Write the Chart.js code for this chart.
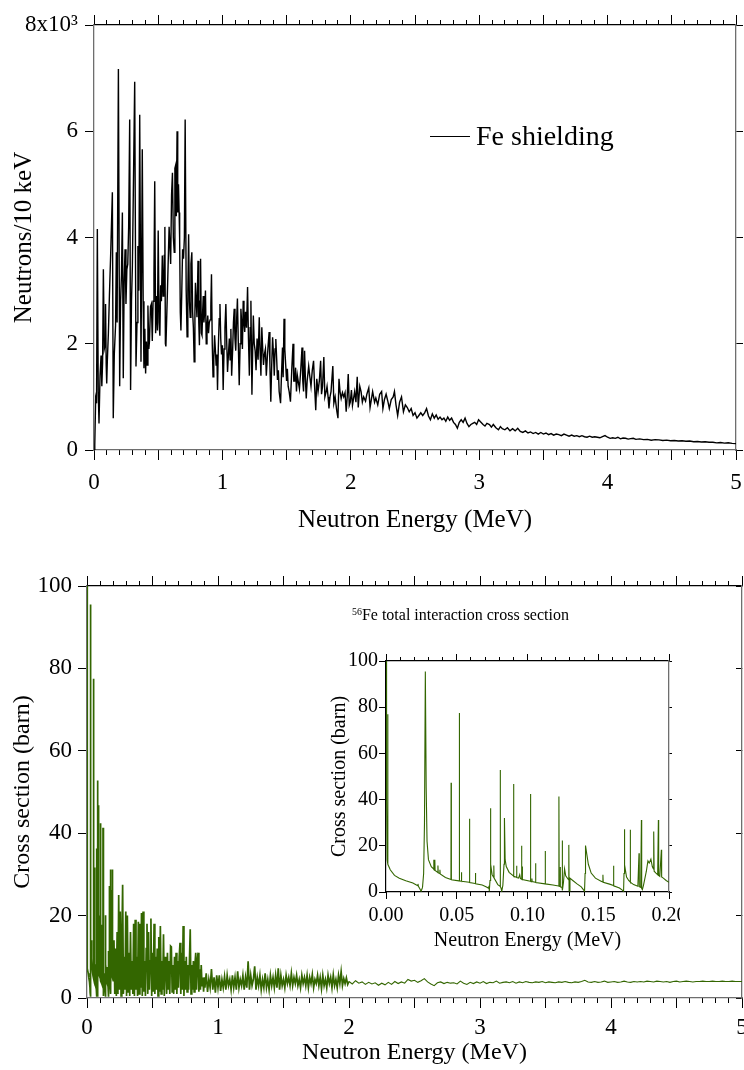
<!DOCTYPE html>
<html>
<head>
<meta charset="utf-8">
<script src="https://cdn.jsdelivr.net/npm/chart.js@4.4.1/dist/chart.umd.min.js"></script>
<style>
  body { margin: 0; background: #fff; width: 744px; height: 1070px; position: relative; overflow: hidden;
         font-family: 'Liberation Serif', 'Times New Roman', serif; color: #000; }
  canvas { position: absolute; }
  #shieldChart { left: 0; top: 0; }
  #xsChart { left: 0; top: 560px; }
  #insetChart { left: 320px; top: 640px; }
  .note { position: absolute; white-space: nowrap; }
  .note sup { font-size: 62%; vertical-align: 0; position: relative; top: -0.55em; }
</style>
</head>
<body>
<canvas id="shieldChart" width="744" height="540"></canvas>
<canvas id="xsChart" width="744" height="510"></canvas>
<canvas id="insetChart" width="360" height="315"></canvas>

<div style="position:absolute;left:430px;top:136px;width:40px;height:1.3px;background:#000"></div>
<div class="note" style="left:476px;top:120px;font-size:28px;line-height:32px">Fe shielding</div>
<div class="note" style="left:352px;top:605px;font-size:16px;line-height:19px"><sup>56</sup>Fe total interaction cross section</div>

<script>
/* ─── Data: [energy (MeV), value] ─────────────────────────────── */

// neutron spectrum behind the Fe shield (neutrons per 10 keV)
const shieldingSpectrum = [
  [0.000, 0], [0.006, 90], [0.013, 970], [0.020, 880], [0.026, 4160], [0.033, 1100], [0.039, 500], [0.047, 1400],
  [0.055, 1780], [0.061, 1200], [0.067, 1650], [0.073, 3400], [0.080, 1900], [0.086, 1970], [0.090, 2750], [0.095, 1600],
  [0.099, 1250], [0.104, 1690], [0.112, 2200], [0.120, 2900], [0.130, 3700], [0.143, 4850], [0.150, 600], [0.158, 1800],
  [0.168, 2350], [0.174, 3720], [0.180, 2400], [0.190, 7170], [0.200, 1200], [0.207, 2800], [0.214, 3300], [0.221, 4470],
  [0.228, 1350], [0.235, 3200], [0.242, 3780], [0.249, 2750], [0.256, 3400], [0.263, 3500], [0.270, 4200], [0.278, 6220],
  [0.285, 1130], [0.292, 2800], [0.299, 3470], [0.306, 4800], [0.317, 6930], [0.327, 1570], [0.335, 2400], [0.342, 3840],
  [0.349, 3000], [0.356, 6310], [0.366, 1660], [0.371, 3500], [0.376, 5660], [0.383, 2800], [0.389, 1540], [0.396, 2280],
  [0.402, 1440], [0.408, 2040], [0.414, 1600], [0.420, 2720], [0.427, 1900], [0.432, 2050], [0.440, 2700], [0.447, 2750],
  [0.454, 2050], [0.460, 2800], [0.467, 3300], [0.473, 5060], [0.480, 2200], [0.487, 2900], [0.494, 2250], [0.500, 4130],
  [0.507, 2400], [0.513, 2150], [0.519, 3100], [0.525, 2800], [0.532, 3660], [0.538, 2900], [0.543, 3000], [0.547, 3660],
  [0.552, 4200], [0.556, 2000], [0.560, 1950], [0.572, 3000], [0.585, 4200], [0.597, 3500], [0.604, 4800], [0.611, 5220],
  [0.618, 4000], [0.625, 3720], [0.630, 5300], [0.635, 5350], [0.641, 4400], [0.647, 6000], [0.652, 4470], [0.658, 5000],
  [0.663, 4470], [0.667, 3970], [0.672, 2600], [0.677, 2250], [0.683, 2900], [0.690, 3780], [0.697, 3600], [0.704, 4000],
  [0.710, 6220], [0.718, 3000], [0.725, 2130], [0.731, 3000], [0.737, 4060], [0.743, 2800], [0.749, 2500], [0.755, 3500],
  [0.762, 3720], [0.768, 2600], [0.774, 2300], [0.780, 1660], [0.786, 2600], [0.790, 3150], [0.796, 2800], [0.802, 2500],
  [0.810, 3560], [0.816, 2400], [0.821, 1970], [0.826, 2800], [0.830, 3600], [0.836, 2200], [0.841, 2160], [0.846, 2600],
  [0.851, 2900], [0.856, 2400], [0.862, 2600], [0.868, 3000], [0.874, 2000], [0.880, 2300], [0.886, 2530], [0.892, 2200],
  [0.898, 2400], [0.904, 2450], [0.910, 2700], [0.915, 3310], [0.921, 2000], [0.927, 1380], [0.933, 1700], [0.939, 2160],
  [0.945, 1900], [0.951, 1600], [0.957, 1800], [0.962, 1130], [0.968, 1900], [0.975, 2470], [0.981, 2750], [0.987, 2100],
  [0.993, 1800], [1.000, 1970], [1.006, 1130], [1.013, 1900], [1.020, 2300], [1.027, 2750], [1.034, 2000], [1.040, 1470],
  [1.047, 1800], [1.054, 2100], [1.060, 1700], [1.066, 2280], [1.072, 1400], [1.080, 1900], [1.086, 2400], [1.092, 2660],
  [1.098, 2100], [1.104, 1870], [1.110, 2400], [1.117, 2850], [1.124, 2000], [1.131, 1220], [1.138, 2000], [1.144, 2660],
  [1.150, 2400], [1.156, 1900], [1.162, 2810], [1.168, 2400], [1.174, 2220], [1.180, 2600], [1.188, 2300], [1.196, 3070],
  [1.203, 2100], [1.210, 1400], [1.216, 2300], [1.222, 2810], [1.230, 1040], [1.236, 1900], [1.241, 2530], [1.248, 2000],
  [1.255, 1870], [1.262, 1500], [1.270, 2100], [1.278, 1700], [1.287, 2500], [1.293, 1900], [1.300, 1400], [1.307, 2310],
  [1.314, 1900], [1.320, 1600], [1.327, 1800], [1.335, 1900], [1.342, 1400], [1.350, 1750], [1.357, 2000], [1.364, 2220],
  [1.370, 1600], [1.377, 910], [1.384, 1600], [1.391, 2120], [1.398, 1800], [1.404, 1400], [1.410, 1900], [1.416, 2090],
  [1.423, 1700], [1.429, 1320], [1.436, 1500], [1.442, 1100], [1.453, 880], [1.460, 1400], [1.468, 1930], [1.473, 1370],
  [1.480, 2470], [1.486, 1900], [1.493, 1600], [1.500, 1300], [1.506, 1530], [1.512, 1200], [1.520, 1100], [1.530, 910],
  [1.540, 1500], [1.550, 2000], [1.556, 1300], [1.563, 1300], [1.570, 1550], [1.577, 1100], [1.584, 1400], [1.590, 1300],
  [1.600, 1150], [1.610, 1500], [1.620, 1930], [1.626, 1300], [1.632, 1100], [1.640, 1870], [1.647, 1300], [1.653, 970],
  [1.660, 1300], [1.672, 1580], [1.680, 1400], [1.690, 1200], [1.700, 1500], [1.710, 1680], [1.718, 1200], [1.727, 750],
  [1.735, 1340], [1.745, 1100], [1.755, 1300], [1.765, 1680], [1.772, 1050], [1.780, 1200], [1.790, 1750], [1.798, 1000],
  [1.808, 1100], [1.815, 1200], [1.823, 1000], [1.830, 780], [1.838, 1000], [1.846, 1100], [1.860, 1580], [1.868, 880],
  [1.878, 1000], [1.890, 750], [1.900, 600], [1.908, 1340], [1.916, 1100], [1.925, 970], [1.935, 1080], [1.945, 1000],
  [1.955, 1080], [1.964, 720], [1.972, 1000], [1.980, 1430], [1.988, 840], [1.996, 900], [2.005, 1130], [2.013, 840],
  [2.020, 950], [2.030, 1100], [2.040, 900], [2.050, 1380], [2.058, 800], [2.070, 1200], [2.080, 1100], [2.090, 900],
  [2.100, 1000], [2.115, 920], [2.125, 1050], [2.140, 1170], [2.150, 800], [2.160, 950], [2.170, 1100], [2.185, 900],
  [2.195, 980], [2.210, 850], [2.225, 1050], [2.240, 1100], [2.250, 780], [2.262, 950], [2.275, 1050], [2.290, 900],
  [2.300, 780], [2.315, 950], [2.330, 1000], [2.340, 1100], [2.352, 850], [2.365, 650], [2.380, 900], [2.395, 1000],
  [2.410, 720], [2.425, 850], [2.440, 800], [2.455, 720], [2.470, 780], [2.485, 650], [2.500, 700], [2.515, 600],
  [2.530, 650], [2.545, 700], [2.560, 650], [2.575, 700], [2.590, 780], [2.605, 640], [2.620, 570], [2.635, 680],
  [2.650, 600], [2.665, 660], [2.680, 580], [2.695, 620], [2.710, 570], [2.725, 600], [2.740, 540], [2.755, 620],
  [2.770, 560], [2.785, 600], [2.800, 520], [2.815, 480], [2.830, 410], [2.845, 520], [2.860, 570], [2.875, 520],
  [2.890, 600], [2.905, 500], [2.920, 440], [2.935, 480], [2.950, 500], [2.965, 520], [2.980, 480], [2.995, 570],
  [3.010, 530], [3.030, 480], [3.045, 450], [3.060, 500], [3.080, 480], [3.095, 430], [3.110, 480], [3.130, 420],
  [3.150, 380], [3.165, 440], [3.180, 400], [3.200, 380], [3.220, 420], [3.240, 360], [3.260, 400], [3.280, 360],
  [3.300, 410], [3.320, 350], [3.340, 330], [3.360, 360], [3.380, 320], [3.400, 340], [3.420, 310], [3.440, 330],
  [3.460, 300], [3.480, 330], [3.500, 300], [3.520, 320], [3.540, 290], [3.560, 310], [3.580, 280], [3.600, 300],
  [3.620, 290], [3.640, 270], [3.660, 300], [3.680, 280], [3.700, 260], [3.720, 280], [3.740, 260], [3.760, 270],
  [3.780, 250], [3.800, 270], [3.820, 250], [3.840, 240], [3.860, 260], [3.880, 240], [3.900, 250], [3.920, 240],
  [3.940, 230], [3.960, 250], [3.980, 270], [4.000, 240], [4.020, 220], [4.040, 230], [4.060, 220], [4.080, 240],
  [4.100, 210], [4.120, 225], [4.140, 220], [4.160, 205], [4.180, 215], [4.200, 220], [4.220, 200], [4.250, 210],
  [4.280, 195], [4.310, 200], [4.340, 185], [4.370, 195], [4.400, 190], [4.430, 180], [4.460, 185], [4.490, 175],
  [4.520, 180], [4.550, 170], [4.580, 175], [4.610, 165], [4.640, 170], [4.670, 155], [4.700, 160], [4.730, 150],
  [4.760, 155], [4.790, 145], [4.820, 145], [4.850, 135], [4.880, 140], [4.910, 130], [4.940, 135], [4.970, 125],
  [5.000, 120],
];

// 56Fe total cross section (barn), 0 - 0.2 MeV (also the inset)
const xsLowEnergy = [
  [0.0000, 100], [0.0004, 40], [0.0008, 14], [0.0012, 77], [0.0014, 12], [0.0020, 11], [0.0030, 9.6], [0.0060, 7.2],
  [0.0094, 6], [0.0140, 4.9], [0.0190, 3.9], [0.0224, 2.7], [0.0226, 3.5], [0.0229, 2.5], [0.0240, 1.3], [0.0248, 0.3],
  [0.0258, 2], [0.0266, 8], [0.0272, 30], [0.0278, 95.5], [0.0284, 45], [0.0290, 22], [0.0300, 14], [0.0320, 11],
  [0.0336, 10], [0.0337, 14], [0.0339, 9.8], [0.0344, 9.5], [0.0345, 14], [0.0347, 9.3], [0.0366, 8.5], [0.0367, 11.5],
  [0.0369, 8.3], [0.0380, 8], [0.0381, 9.6], [0.0383, 7.8], [0.0420, 6.3], [0.0459, 5.4], [0.0460, 47.3], [0.0462, 5.3],
  [0.0516, 4.8], [0.0518, 77.5], [0.0520, 4.8], [0.0532, 4.7], [0.0533, 8.6], [0.0535, 4.6], [0.0588, 4.2], [0.0590, 31.7],
  [0.0592, 4.1], [0.0630, 3.7], [0.0632, 8.2], [0.0634, 3.6], [0.0680, 3], [0.0710, 2.2], [0.0726, 1.6], [0.0728, 2.7],
  [0.0730, 0.3], [0.0735, 5], [0.0738, 36.3], [0.0741, 12], [0.0750, 7.5], [0.0760, 6.4], [0.0762, 11.5], [0.0764, 6],
  [0.0790, 3.2], [0.0806, 2.5], [0.0807, 52.8], [0.0809, 2.4], [0.0814, 1.5], [0.0818, 0.3], [0.0826, 3], [0.0834, 12],
  [0.0837, 32], [0.0842, 14], [0.0850, 11], [0.0870, 8.5], [0.0900, 7], [0.0901, 46.8], [0.0904, 6.8], [0.0922, 6.4],
  [0.0923, 11.4], [0.0925, 6.3], [0.0937, 6], [0.0945, 7.5], [0.0950, 5.8], [0.0957, 5.6], [0.0958, 20], [0.0960, 5.5],
  [0.0962, 11], [0.0964, 5.4], [0.1020, 4.7], [0.1021, 42.4], [0.1023, 4.6], [0.1030, 4.5], [0.1031, 5.8], [0.1033, 4.5],
  [0.1055, 4.2], [0.1057, 12.5], [0.1059, 4.1], [0.1124, 3.5], [0.1125, 17.8], [0.1127, 3.5], [0.1180, 3], [0.1220, 2.6],
  [0.1222, 41.3], [0.1224, 2.5], [0.1230, 2.4], [0.1231, 10.8], [0.1233, 2.3], [0.1244, 2], [0.1245, 22.3], [0.1248, 0.7],
  [0.1254, 4], [0.1262, 10], [0.1270, 7], [0.1290, 5.3], [0.1292, 20.4], [0.1294, 0.5], [0.1300, 6], [0.1320, 5],
  [0.1350, 3.5], [0.1380, 2.2], [0.1400, 0.6], [0.1403, 0.3], [0.1407, 8], [0.1410, 20.1], [0.1420, 16], [0.1430, 12],
  [0.1450, 8.2], [0.1480, 6], [0.1520, 4.7], [0.1532, 4.3], [0.1533, 7.5], [0.1535, 4.2], [0.1580, 3.4], [0.1607, 2.8],
  [0.1608, 11.4], [0.1610, 2.7], [0.1650, 1.7], [0.1670, 0.8], [0.1679, 0.3], [0.1682, 8], [0.1684, 27.2], [0.1688, 11.8],
  [0.1700, 6.5], [0.1715, 5], [0.1725, 4.4], [0.1726, 26.9], [0.1728, 4.2], [0.1750, 3.2], [0.1780, 2.5], [0.1788, 16.8],
  [0.1790, 2.3], [0.1800, 2], [0.1805, 31.2], [0.1807, 1.5], [0.1812, 1], [0.1820, 3], [0.1840, 9], [0.1851, 13.5],
  [0.1860, 12.5], [0.1872, 14.2], [0.1882, 11], [0.1890, 10], [0.1892, 26.2], [0.1895, 9], [0.1908, 8.2], [0.1920, 7.5],
  [0.1925, 31.2], [0.1927, 7.2], [0.1935, 6.8], [0.1946, 18.3], [0.1948, 6.5], [0.1960, 6], [0.1980, 5], [0.2000, 4.2],
];

// 0.2 - 0.9 MeV, dense resolved resonances
const xsResonance = [
  [0.206, 14], [0.212, 1], [0.218, 12], [0.224, 0.5], [0.230, 16], [0.236, 1], [0.242, 25], [0.248, 2],
  [0.254, 21], [0.260, 0.5], [0.266, 13], [0.272, 27.5], [0.278, 1], [0.284, 10], [0.290, 2], [0.296, 21],
  [0.302, 0.5], [0.308, 20], [0.314, 1.5], [0.320, 11], [0.326, 0.5], [0.332, 16], [0.338, 2], [0.344, 9],
  [0.350, 1], [0.356, 18], [0.362, 0.5], [0.368, 19], [0.374, 2], [0.380, 10], [0.386, 0.5], [0.392, 18.5],
  [0.398, 1], [0.404, 18], [0.410, 2.5], [0.416, 20.6], [0.422, 0.5], [0.428, 21], [0.434, 1.5], [0.440, 9],
  [0.446, 0.5], [0.452, 12], [0.458, 18], [0.464, 1], [0.470, 16], [0.476, 2], [0.482, 9], [0.488, 19.3],
  [0.494, 0.5], [0.500, 11], [0.506, 1.5], [0.512, 18], [0.518, 1], [0.524, 10], [0.530, 2], [0.536, 12],
  [0.542, 0.5], [0.548, 14.8], [0.554, 1.5], [0.560, 17.5], [0.566, 1], [0.572, 9], [0.578, 2], [0.584, 15.5],
  [0.590, 0.5], [0.596, 10], [0.602, 8], [0.608, 1], [0.614, 11], [0.620, 2], [0.626, 9], [0.632, 1],
  [0.638, 12.6], [0.644, 12.4], [0.650, 1.5], [0.656, 8], [0.662, 1], [0.668, 10], [0.674, 2], [0.680, 11],
  [0.686, 1], [0.692, 9], [0.698, 2.5], [0.704, 10], [0.710, 13.4], [0.716, 1], [0.722, 11], [0.728, 2],
  [0.734, 17.5], [0.740, 0.5], [0.746, 9], [0.752, 2], [0.758, 10], [0.764, 1.5], [0.770, 8], [0.776, 2],
  [0.782, 9], [0.788, 16.7], [0.794, 1], [0.800, 8], [0.806, 2], [0.812, 9], [0.818, 1.5], [0.824, 8],
  [0.830, 11], [0.836, 2], [0.842, 9], [0.848, 11], [0.854, 1.5], [0.860, 7], [0.866, 2], [0.872, 8],
  [0.878, 3], [0.884, 5], [0.890, 1.5], [0.896, 5],
];

// 0.9 - 2.0 MeV
const xsUnresolved = [
  [0.90, 2.5], [0.91, 6], [0.92, 1.5], [0.93, 4.5], [0.94, 2.5], [0.95, 7], [0.96, 2], [0.97, 5], [0.98, 1.3], [0.99, 5.5],
  [1.00, 2.5], [1.01, 5.5], [1.02, 1.7], [1.03, 4.5], [1.04, 2.5], [1.05, 5.2], [1.06, 2], [1.07, 5.5], [1.08, 3], [1.09, 4.5],
  [1.10, 2], [1.11, 5.5], [1.12, 2.5], [1.13, 5], [1.14, 2], [1.15, 6.5], [1.16, 2.5], [1.17, 4.5], [1.18, 3], [1.19, 5.5],
  [1.20, 2], [1.21, 5], [1.22, 2.5], [1.23, 8.9], [1.24, 2], [1.25, 5.5], [1.26, 3], [1.27, 4.5], [1.28, 7.7], [1.29, 2],
  [1.30, 5], [1.31, 3], [1.32, 5.5], [1.33, 2], [1.34, 4.5], [1.35, 2.5], [1.36, 6], [1.37, 2.5], [1.38, 4.5], [1.39, 2],
  [1.40, 5.5], [1.41, 3], [1.42, 5], [1.43, 2.5], [1.44, 5.5], [1.45, 2.5], [1.46, 7.2], [1.47, 2], [1.48, 5.5], [1.49, 3],
  [1.50, 4.5], [1.51, 2.5], [1.52, 5.5], [1.53, 3.5], [1.54, 5], [1.55, 3], [1.56, 6], [1.57, 3], [1.58, 5], [1.59, 3.5],
  [1.60, 5.5], [1.61, 3], [1.62, 4.5], [1.63, 2.5], [1.64, 5.5], [1.65, 3.5], [1.66, 5], [1.67, 3], [1.68, 5.5], [1.69, 2.5],
  [1.70, 5], [1.71, 3.5], [1.72, 5.7], [1.73, 2.5], [1.74, 4.5], [1.75, 3.5], [1.76, 5.5], [1.77, 3], [1.78, 5], [1.79, 2.3],
  [1.80, 5.5], [1.81, 3], [1.82, 4.5], [1.83, 2.5], [1.84, 5.5], [1.85, 3.5], [1.86, 5], [1.87, 2.5], [1.88, 5.6], [1.89, 3],
  [1.90, 4.5], [1.91, 2.5], [1.92, 5.5], [1.93, 3.5], [1.94, 6.4], [1.95, 3], [1.96, 4.7], [1.97, 3.5], [1.98, 4.9], [1.99, 3.3],
  [2.00, 4.0],
];

// 2.0 - 5.0 MeV, smooth region
const xsSmooth = [
  [2.000, 4.0], [2.025, 3.4], [2.050, 4.2], [2.075, 3.6], [2.100, 3.9], [2.125, 3.3], [2.150, 3.8], [2.175, 3.4],
  [2.200, 3.7], [2.225, 3.1], [2.250, 3.6], [2.275, 3.2], [2.300, 3.8], [2.325, 3.3], [2.350, 4.0], [2.375, 3.5],
  [2.400, 3.9], [2.425, 3.6], [2.450, 4.5], [2.475, 4.1], [2.500, 4.3], [2.525, 3.8], [2.550, 4.2], [2.575, 4.7],
  [2.600, 3.9], [2.625, 3.4], [2.650, 3.0], [2.675, 3.7], [2.700, 3.9], [2.725, 3.5], [2.750, 3.8], [2.775, 3.6],
  [2.800, 3.7], [2.825, 3.4], [2.850, 4.1], [2.875, 3.6], [2.900, 3.3], [2.925, 3.8], [2.950, 3.5], [2.975, 3.9],
  [3.000, 3.6], [3.025, 4.0], [3.050, 3.5], [3.075, 3.8], [3.100, 3.7], [3.125, 4.1], [3.150, 3.6], [3.175, 3.8],
  [3.200, 3.9], [3.225, 3.7], [3.250, 4.0], [3.275, 3.6], [3.300, 3.9], [3.325, 3.7], [3.350, 4.0], [3.375, 3.8],
  [3.400, 3.7], [3.425, 3.9], [3.450, 3.8], [3.475, 4.0], [3.500, 3.7], [3.525, 3.9], [3.550, 3.8], [3.575, 3.7],
  [3.600, 3.9], [3.625, 3.8], [3.650, 4.0], [3.675, 3.8], [3.700, 3.7], [3.725, 3.9], [3.750, 3.8], [3.775, 4.0],
  [3.800, 4.3], [3.825, 3.9], [3.850, 3.8], [3.875, 4.0], [3.900, 3.8], [3.925, 3.9], [3.950, 4.1], [3.975, 3.8],
  [4.000, 3.9], [4.025, 4.0], [4.050, 3.8], [4.075, 3.9], [4.100, 4.1], [4.125, 3.9], [4.150, 3.8], [4.175, 4.0],
  [4.200, 3.9], [4.225, 4.0], [4.250, 3.9], [4.275, 4.1], [4.300, 4.0], [4.325, 3.9], [4.350, 4.1], [4.375, 4.0],
  [4.400, 3.9], [4.425, 4.0], [4.450, 3.8], [4.475, 4.0], [4.500, 4.1], [4.525, 3.9], [4.550, 4.0], [4.575, 4.1],
  [4.600, 4.0], [4.625, 3.9], [4.650, 4.0], [4.675, 4.0], [4.700, 4.1], [4.725, 4.0], [4.750, 4.0], [4.775, 4.1],
  [4.800, 4.0], [4.825, 4.0], [4.850, 4.1], [4.875, 4.0], [4.900, 4.0], [4.925, 4.1], [4.950, 4.0], [4.975, 4.0],
  [5.000, 4.0],
];

const energyTitle = 'Neutron Energy (MeV)';
const xsTitle = 'Cross section (barn)';

/* ─── Helpers ──────────────────────────────────────────────────── */

const SERIF = "'Liberation Serif', 'Times New Roman', serif";
const GREEN = '#336600';
const AXIS_GREY = '#6e6e6e';

const toPoints = rows => rows.map(([x, y]) => ({ x, y }));

// pin the axis box to a fixed thickness so the plot area lands where we want it
function boxSize(size) {
  return scale => {
    if (scale.isHorizontal()) scale.height = size; else scale.width = size;
    scale.paddingLeft = scale.paddingRight = scale.paddingTop = scale.paddingBottom = 0;
  };
}

// unlabeled axis used only for tick marks (minor ticks, mirrored sides)
function tickAxis(axis, position, min, max, step, tickLength, weight, size, borderColor) {
  return {
    type: 'linear', axis, position, min, max, weight,
    ticks: { display: false, stepSize: step, autoSkip: false },
    grid: { drawOnChartArea: false, drawTicks: true, tickLength, tickColor: '#000', tickWidth: 1 },
    border: { display: !!borderColor, color: borderColor || '#000', width: 1.3 },
    afterFit: boxSize(size),
  };
}

function baseOptions(scales) {
  return {
    responsive: false, maintainAspectRatio: false, animation: false, devicePixelRatio: 1,
    layout: { padding: 0, autoPadding: false },
    plugins: { legend: { display: false }, tooltip: { enabled: false } },
    elements: { point: { radius: 0 }, line: { tension: 0 } },
    scales,
  };
}

/* ─── Top: Fe shielding spectrum ───────────────────────────────── */

new Chart(document.getElementById('shieldChart'), {
  type: 'line',
  data: { datasets: [{ data: toPoints(shieldingSpectrum), borderColor: '#000', borderWidth: 1.4, pointRadius: 0 }] },
  options: baseOptions({
    x: {
      type: 'linear', position: 'bottom', min: 0, max: 5, weight: 1,
      ticks: { stepSize: 0.5, autoSkip: false, maxRotation: 0, color: '#000', padding: 9,
               font: { family: SERIF, size: 23 }, callback: v => Number.isInteger(v) ? String(v) : '' },
      grid: { drawOnChartArea: false, tickLength: 10, tickColor: '#000' },
      border: { color: AXIS_GREY, width: 1.3 },
      title: { display: true, text: energyTitle, color: '#000', font: { family: SERIF, size: 25 }, padding: { top: 0, bottom: 5 } },
      afterFit: boxSize(90),
    },
    xMinor: tickAxis('x', 'bottom', 0, 5, 0.1, 5, 0, 0, null),
    xTop: tickAxis('x', 'top', 0, 5, 0.5, 10, 1, 25, '#000'),
    xTopMinor: tickAxis('x', 'top', 0, 5, 0.1, 5, 0, 0, null),
    y: {
      type: 'linear', position: 'left', min: 0, max: 8000,
      ticks: { stepSize: 2000, color: '#000', padding: 7, font: { family: SERIF, size: 23 },
               callback: v => v === 8000 ? '8x10³' : String(v / 1000) },
      grid: { drawOnChartArea: false, tickLength: 9, tickColor: '#000' },
      border: { color: AXIS_GREY, width: 1.3 },
      title: { display: true, text: 'Neutrons/10 keV', color: '#000', font: { family: SERIF, size: 25 }, padding: { top: 9, bottom: 0 } },
      afterFit: boxSize(94),
    },
    yRight: tickAxis('y', 'right', 0, 8000, 2000, 7, 0, 8, AXIS_GREY),
  }),
});

/* ─── Bottom: 56Fe total cross section, 0-5 MeV ───────────────── */

new Chart(document.getElementById('xsChart'), {
  type: 'line',
  data: {
    datasets: [
      { data: toPoints([...xsLowEnergy, ...xsResonance, ...xsUnresolved]), borderColor: GREEN, borderWidth: 1.7, pointRadius: 0 },
      { data: toPoints(xsSmooth), borderColor: GREEN, borderWidth: 1.1, pointRadius: 0 },
    ],
  },
  options: baseOptions({
    x: {
      type: 'linear', position: 'bottom', min: 0, max: 5, weight: 1,
      ticks: { stepSize: 0.5, autoSkip: false, maxRotation: 0, color: '#000', padding: 6,
               font: { family: SERIF, size: 23 }, callback: v => Number.isInteger(v) ? String(v) : '' },
      grid: { drawOnChartArea: false, tickLength: 10, tickColor: '#000' },
      border: { color: AXIS_GREY, width: 1.3 },
      title: { display: true, text: energyTitle, color: '#000', font: { family: SERIF, size: 24 }, padding: { top: 0, bottom: 3 } },
      afterFit: boxSize(72),
    },
    xMinor: tickAxis('x', 'bottom', 0, 5, 0.1, 5, 0, 0, null),
    xTop: tickAxis('x', 'top', 0, 5, 0.5, 10, 1, 26, '#000'),
    xTopMinor: tickAxis('x', 'top', 0, 5, 0.1, 5, 0, 0, null),
    y: {
      type: 'linear', position: 'left', min: 0, max: 100,
      ticks: { stepSize: 20, color: '#000', padding: 6, font: { family: SERIF, size: 23 } },
      grid: { drawOnChartArea: false, tickLength: 9, tickColor: '#000' },
      border: { color: AXIS_GREY, width: 1.3 },
      title: { display: true, text: xsTitle, color: '#000', font: { family: SERIF, size: 24 }, padding: { top: 8, bottom: 0 } },
      afterFit: boxSize(87),
    },
    yRight: tickAxis('y', 'right', 0, 100, 20, -6, 0, 2, AXIS_GREY),
  }),
});

/* ─── Inset: 0-0.2 MeV ─────────────────────────────────────────── */

new Chart(document.getElementById('insetChart'), {
  type: 'line',
  data: { datasets: [{ data: toPoints(xsLowEnergy), borderColor: GREEN, borderWidth: 1.1, pointRadius: 0 }] },
  options: baseOptions({
    x: {
      type: 'linear', position: 'bottom', min: 0, max: 0.2, weight: 1,
      ticks: { stepSize: 0.05, autoSkip: false, maxRotation: 0, color: '#000', padding: 5,
               font: { family: SERIF, size: 20 }, callback: v => v.toFixed(2) },
      grid: { drawOnChartArea: false, tickLength: 7, tickColor: '#000' },
      border: { color: '#000', width: 1.2 },
      title: { display: true, text: energyTitle, color: '#000', font: { family: SERIF, size: 20 }, padding: { top: 0, bottom: 2 } },
      afterFit: boxSize(63),
    },
    xMinor: tickAxis('x', 'bottom', 0, 0.2, 0.01, 4, 0, 0, null),
    xTop: tickAxis('x', 'top', 0, 0.2, 0.05, 7, 1, 21, '#000'),
    xTopMinor: tickAxis('x', 'top', 0, 0.2, 0.01, 4, 0, 0, null),
    y: {
      type: 'linear', position: 'left', min: 0, max: 100,
      ticks: { stepSize: 20, color: '#000', padding: 1, font: { family: SERIF, size: 20 } },
      grid: { drawOnChartArea: false, tickLength: 7, tickColor: '#000' },
      border: { color: '#000', width: 1.2 },
      title: { display: true, text: xsTitle, color: '#000', font: { family: SERIF, size: 20 }, padding: { top: 8, bottom: 0 } },
      afterFit: boxSize(66),
    },
    yRight: tickAxis('y', 'right', 0, 100, 20, 3, 0, 11, AXIS_GREY),
  }),
});
</script>
</body>
</html>
